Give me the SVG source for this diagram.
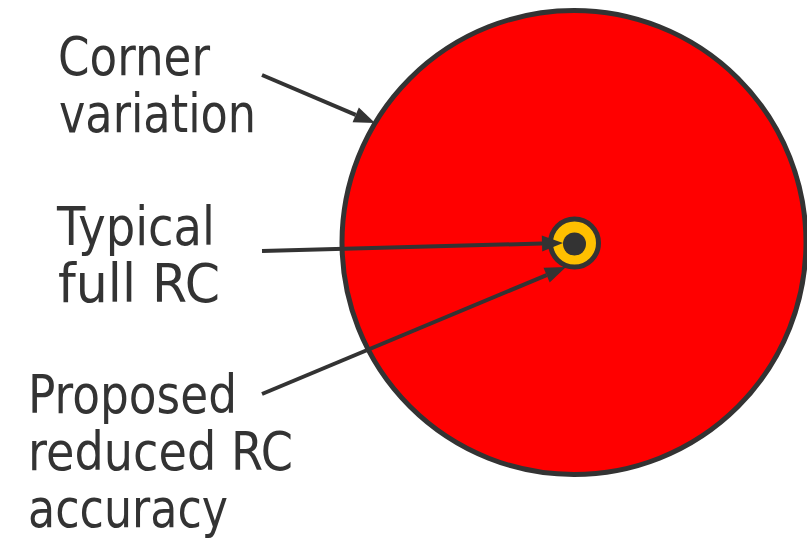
<svg xmlns="http://www.w3.org/2000/svg" width="807" height="546" viewBox="0 0 807 546">
  <style>
    .label { font-family: "DejaVu Sans", "Liberation Sans", sans-serif; font-size: 54px; fill: #333333; }
    .ring { stroke: #333333; stroke-width: 5; }
    .conn { stroke: #333333; stroke-width: 4; fill: none; marker-end: url(#head); }
  </style>
  <defs>
    <marker id="head" markerUnits="userSpaceOnUse" markerWidth="24" markerHeight="18" refX="0" refY="8" orient="auto" overflow="visible">
      <path d="M0,0 L21,8 L0,16 Z" fill="#333333"/>
    </marker>
  </defs>

  <rect width="807" height="546" fill="#ffffff"/>

  <!-- outer spread: corner variation -->
  <g id="corner-circle">
    <circle class="ring" cx="574" cy="242.5" r="232" fill="#ff0000"/>
  </g>

  <!-- small ring: reduced accuracy, with typical point inside -->
  <g id="reduced-circle">
    <circle class="ring" cx="574.5" cy="243" r="24" fill="#ffc000"/>
  </g>
  <g id="typical-point">
    <circle cx="574.5" cy="244" r="11.5" fill="#333333"/>
  </g>

  <g id="label-corner">
    <text class="label" x="58" y="75" textLength="152" lengthAdjust="spacingAndGlyphs">Corner</text>
    <text class="label" x="59" y="132" textLength="197" lengthAdjust="spacingAndGlyphs">variation</text>
  </g>
  <g id="label-typical">
    <text class="label" x="57" y="245" textLength="158" lengthAdjust="spacingAndGlyphs">Typical</text>
    <text class="label" x="58" y="302" textLength="162" lengthAdjust="spacingAndGlyphs">full RC</text>
  </g>
  <g id="label-proposed">
    <text class="label" x="28" y="413" textLength="209" lengthAdjust="spacingAndGlyphs">Proposed</text>
    <text class="label" x="28" y="470" textLength="265" lengthAdjust="spacingAndGlyphs">reduced RC</text>
    <text class="label" x="28" y="527" textLength="200" lengthAdjust="spacingAndGlyphs">accuracy</text>
  </g>

  <g id="connectors">
    <path class="conn" d="M262,75 L355.7,114.8"/>
    <path class="conn" d="M262,251 L542,243.5"/>
    <path class="conn" d="M262,394 L546.6,275.1"/>
  </g>
</svg>
